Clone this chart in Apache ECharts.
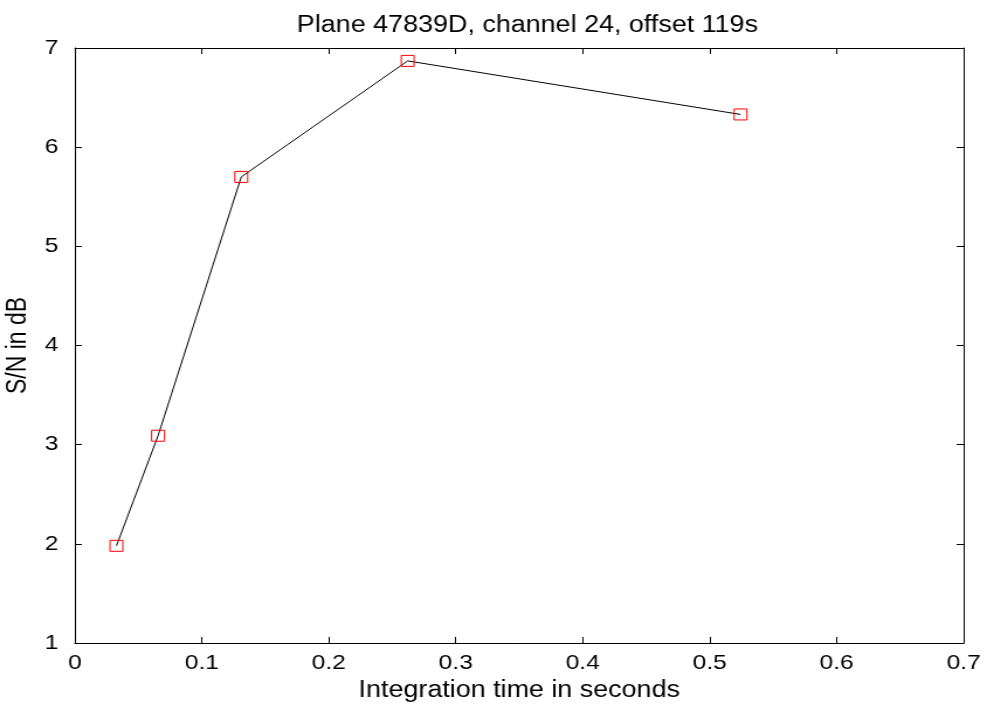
<!DOCTYPE html>
<html>
<head>
<meta charset="utf-8">
<script src="https://cdn.jsdelivr.net/npm/echarts@6/dist/echarts.min.js"></script>
<style>
  html, body { margin: 0; padding: 0; background: #fff; overflow: hidden; }
  #wrap { width: 987px; height: 704px; overflow: hidden; position: relative; }
  /* the reference figure is stretched horizontally, so draw narrower and scale */
  #chart { width: 844px; height: 704px; transform: scaleX(1.16943); transform-origin: 0 0; }
</style>
</head>
<body>
<div id="wrap"><div id="chart"></div></div>
<script>
const integrationTimes = [0.032768, 0.065536, 0.131072, 0.262144, 0.524288];
const snrDb = [1.98, 3.09, 5.70, 6.87, 6.33];

const font = "'Liberation Sans', Arial, sans-serif";
const points = integrationTimes.map((t, i) => [t, snrDb[i]]);

const chart = echarts.init(document.getElementById("chart"));

const axisCommon = {
  type: "value",
  axisLine: { show: true, onZero: false, lineStyle: { color: "#000", width: 1 } },
  axisTick: { show: true, inside: true, length: 6, lineStyle: { color: "#000" } },
  splitLine: { show: false },
};

chart.setOption({
  animation: false,
  title: {
    text: "Plane 47839D, channel 24, offset 119s",
    left: 446,
    textAlign: "center",
    top: 9,
    textStyle: { fontFamily: font, fontSize: 23, fontWeight: "normal", color: "#000" },
  },
  grid: { left: 64, right: 20, top: 48, bottom: 61, outerBoundsMode: "none" },
  xAxis: [
    {
      ...axisCommon,
      min: 0,
      max: 0.7,
      interval: 0.1,
      name: "Integration time in seconds",
      nameLocation: "middle",
      nameGap: 35,
      nameTextStyle: { fontFamily: font, fontSize: 23, color: "#000" },
      axisLabel: { fontFamily: font, fontSize: 21, color: "#000", margin: 10 },
    },
    {
      ...axisCommon,
      position: "top",
      min: 0,
      max: 0.7,
      interval: 0.1,
      axisLabel: { show: false },
    },
  ],
  yAxis: [
    {
      ...axisCommon,
      min: 1,
      max: 7,
      interval: 1,
      name: "S/N in dB",
      nameLocation: "middle",
      nameGap: 35,
      nameTextStyle: { fontFamily: font, fontSize: 23, color: "#000" },
      axisLabel: { fontFamily: font, fontSize: 21, color: "#000", margin: 14 },
    },
    {
      ...axisCommon,
      position: "right",
      min: 1,
      max: 7,
      interval: 1,
      axisLabel: { show: false },
    },
  ],
  series: [
    {
      type: "line",
      data: points,
      lineStyle: { color: "#000", width: 1 },
      symbol: "rect",
      symbolSize: 11,
      itemStyle: { color: "rgba(0,0,0,0)", borderColor: "#ff0000", borderWidth: 1 },
      showSymbol: true,
    },
  ],
});
</script>
</body>
</html>
